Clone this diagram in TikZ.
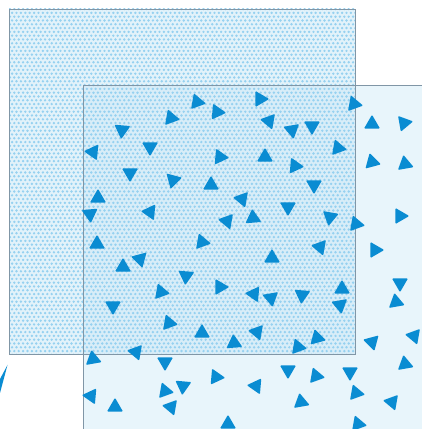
\documentclass[tikz,border=0pt]{standalone}
\usetikzlibrary{shapes.geometric,patterns}
\definecolor{triblue}{HTML}{0A8CD2}
\definecolor{edgegray}{HTML}{8096A6}
\definecolor{paleblue}{HTML}{E8F5FB}
\definecolor{tintblue}{HTML}{CBE8F6}
\definecolor{dotblue}{HTML}{96D1F0}
\pgfdeclarepatternformonly{hexdots}{\pgfqpoint{-1pt}{-1pt}}{\pgfqpoint{5.4pt}{8.6pt}}{\pgfqpoint{4.4pt}{7.6pt}}{%
 \pgfpathcircle{\pgfqpoint{1.1pt}{1.9pt}}{1.35pt}%
 \pgfpathcircle{\pgfqpoint{3.3pt}{5.7pt}}{1.35pt}%
 \pgfusepath{fill}}
\begin{document}
\begin{tikzpicture}[x=1pt,y=1pt,
  tri/.style={regular polygon, regular polygon sides=3, minimum size=18.5pt, inner sep=0pt, fill=triblue, rounded corners=1pt},
  frame/.style={draw=edgegray, line width=0.8pt}]
\useasboundingbox (0,0) rectangle (422,429);
\clip (0,0) rectangle (422,429);
% back square
\fill[paleblue] (83,344) rectangle (440,-10);
% dotted square
\fill[tintblue, fill opacity=0.55] (9,420) rectangle (355,75);
\fill[pattern=hexdots, pattern color=dotblue] (9,420) rectangle (355,75);
\draw[frame] (9,420) rectangle (355,75);
\draw[frame] (83,-10) -- (83,344) -- (440,344);
% triangles
\foreach \x/\y/\a [count=\i] in {
197/102/-10, 171/118/-10, 122/130/-95, 150/147/-90, 93/152/175, 130/173/-90,
173/180/-105, 98/198/90, 260/99/0, 217/112/-5, 269/121/170, 292/130/-80,
312/126/-90, 354/104/-10, 372/124/90, 404/123/10, 338/148/-10, 372/162/-15,
405/164/100, 314/185/-90, 220/157/-5, 265/157/90, 295/166/-5, 211/185/90,
242/199/-70, 288/207/-90, 90/214/-85, 150/212/175, 227/221/170, 253/218/95,
202/242/-10, 97/244/90, 140/259/-75, 123/267/90, 186/276/-95, 161/292/-10,
113/306/-90, 272/258/90, 220/287/0, 254/294/175, 271/298/-80, 302/295/-95,
330/217/-100, 356/224/-10, 400/216/0, 320/247/170, 375/250/0, 400/283/-90,
342/289/90, 396/302/-20, 340/305/160, 169/323/-10, 202/333/90, 257/332/170,
234/343/95, 298/347/-10, 317/338/-15, 136/352/170, 93/359/-20, 165/362/-90,
288/370/-90, 216/377/-5, 316/376/-10, 165/391/-10, 183/386/-95, 256/386/175,
91/396/175, 115/407/90, 171/407/170, 301/402/-20, 228/424/90, 372/342/-75,
414/336/170, 405/364/-20, 350/372/-90, 356/393/-10, 392/402/170, 358/424/-10}
  \node[tri, rotate=\a-90] (t\i) at (\x,{429-\y}) {};
% sliver at lower left
\fill[triblue] (7.5,64) -- (0,50) -- (0,36) -- cycle;
\end{tikzpicture}
\end{document}
